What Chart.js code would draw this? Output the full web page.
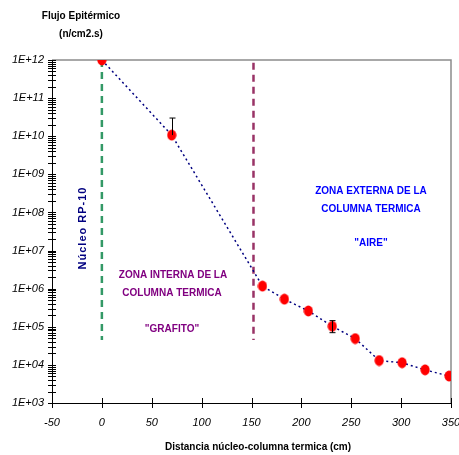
<!DOCTYPE html>
<html>
<head>
<meta charset="utf-8">
<script src="https://cdn.jsdelivr.net/npm/chart.js@4.4.1/dist/chart.umd.min.js"></script>
<style>
  body { margin: 0; background: #fff; }
  canvas { display: block; }
</style>
</head>
<body>
<canvas id="fluxChart" width="459" height="455"></canvas>
<script>
// Measured epithermal flux along the thermal column
const distances = [0, 70, 161, 183, 207, 231, 254, 278, 301, 324, 348];
const flux = [1e12, 1.07e10, 1.17e6, 5.3e5, 2.6e5, 1.03e5, 4.9e4, 1.3e4, 1.14e4, 7.4e3, 5.1e3];
const fluxHigh = [null, 3e10, null, null, null, 1.45e5, null, null, null, null, null];
const fluxLow = [null, null, null, null, null, 7e4, null, null, null, null, null];

// Zone limits (core edge and graphite / air boundary)
const coreX = [0, 0];
const coreY = [1e12, 4.5e4];
const graphiteX = [152, 152];
const graphiteY = [8.5e11, 4.5e4];

// Axis ticks
const xTicks = [-50, 0, 50, 100, 150, 200, 250, 300, 350];
const yDecades = [3, 4, 5, 6, 7, 8, 9, 10, 11, 12];

const FONT = "'Liberation Sans', Arial, sans-serif";

// red marker, a bit taller than wide like the original
const dot = document.createElement("canvas");
dot.width = 10;
dot.height = 12;
const dctx = dot.getContext("2d");
dctx.fillStyle = "#ff0000";
dctx.beginPath();
dctx.ellipse(5, 6, 4.6, 5.4, 0, 0, Math.PI * 2);
dctx.fill();

function yTickValues() {
    const vals = [];
    yDecades.forEach(d => {
        if (d === yDecades[yDecades.length - 1]) {
            vals.push(Math.pow(10, d));
            return;
        }
        for (let m = 1; m <= 9; m++) vals.push(m * Math.pow(10, d));
    });
    return vals;
}

// crossing tick marks + grey frame on top/right
const axisPlugin = {
    id: "axisDecor",
    beforeDatasetsDraw(chart) {
        const { ctx, chartArea: a } = chart;
        ctx.save();
        ctx.strokeStyle = "#8c8c8c";
        ctx.lineWidth = 1.5;
        ctx.beginPath();
        ctx.moveTo(a.left, a.top);
        ctx.lineTo(a.right, a.top);
        ctx.lineTo(a.right, a.bottom);
        ctx.stroke();
        ctx.restore();
    },
    afterDraw(chart) {
        const { ctx, chartArea: a, scales } = chart;
        ctx.save();
        ctx.strokeStyle = "#000";
        ctx.lineWidth = 1;
        ctx.beginPath();
        scales.y.ticks.forEach(t => {
            const py = Math.round(scales.y.getPixelForValue(t.value)) + 0.5;
            ctx.moveTo(a.left - 4, py);
            ctx.lineTo(a.left + 4, py);
        });
        scales.x.ticks.forEach(t => {
            const px = Math.round(scales.x.getPixelForValue(t.value)) + 0.5;
            ctx.moveTo(px, a.bottom - 5);
            ctx.lineTo(px, a.bottom + 5);
        });
        ctx.stroke();
        ctx.restore();
    }
};

// error bars from fluxLow / fluxHigh
const errorBarPlugin = {
    id: "errorBars",
    afterDatasetsDraw(chart) {
        const { ctx, scales } = chart;
        ctx.save();
        ctx.strokeStyle = "#000";
        ctx.lineWidth = 1;
        distances.forEach((d, i) => {
            if (fluxHigh[i] == null && fluxLow[i] == null) return;
            const px = Math.round(scales.x.getPixelForValue(d)) + 0.5;
            const top = scales.y.getPixelForValue(fluxHigh[i] ?? flux[i]);
            const bot = scales.y.getPixelForValue(fluxLow[i] ?? flux[i]);
            ctx.beginPath();
            ctx.moveTo(px, top);
            ctx.lineTo(px, bot);
            if (fluxHigh[i] != null) { ctx.moveTo(px - 3, top); ctx.lineTo(px + 3, top); }
            if (fluxLow[i] != null) { ctx.moveTo(px - 3, bot); ctx.lineTo(px + 3, bot); }
            ctx.stroke();
        });
        ctx.restore();
    }
};

// titles and zone notes
const textPlugin = {
    id: "notes",
    afterDraw(chart) {
        const ctx = chart.ctx;
        ctx.save();
        ctx.textAlign = "center";
        ctx.textBaseline = "middle";

        ctx.fillStyle = "#000";
        ctx.font = "bold 10px " + FONT;
        ctx.fillText("Flujo Epitérmico", 81, 16);
        ctx.fillText("(n/cm2.s)", 81, 34);
        ctx.fillText("Distancia núcleo-columna termica (cm)", 258, 447);

        ctx.fillStyle = "#800080";
        ctx.fillText("ZONA INTERNA DE LA", 173, 275);
        ctx.fillText("COLUMNA TERMICA", 172, 293);
        ctx.fillText("\"GRAFITO\"", 172, 329);

        ctx.fillStyle = "#0000ff";
        ctx.fillText("ZONA EXTERNA DE LA", 371, 191);
        ctx.fillText("COLUMNA TERMICA", 371, 209);
        ctx.fillText("\"AIRE\"", 371, 243);

        ctx.fillStyle = "#000080";
        ctx.font = "bold 11px " + FONT;
        ctx.translate(83, 228);
        ctx.rotate(-Math.PI / 2);
        ctx.letterSpacing = "1px";
        ctx.fillText("Núcleo RP-10", 0, 0);
        ctx.restore();
    }
};

const ctx = document.getElementById("fluxChart").getContext("2d");

new Chart(ctx, {
    type: "scatter",
    data: {
        datasets: [
            {
                label: "Flujo",
                data: distances.map((x, i) => ({ x: x, y: flux[i] })),
                showLine: true,
                borderColor: "#000080",
                borderWidth: 1.5,
                borderDash: [2, 3],
                pointStyle: dot,
                pointRadius: 5,
                order: 1
            },
            {
                label: "Núcleo",
                data: coreX.map((x, i) => ({ x: x, y: coreY[i] })),
                showLine: true,
                borderColor: "#339966",
                borderWidth: 2.5,
                borderDash: [7, 5],
                pointRadius: 0,
                order: 2
            },
            {
                label: "Grafito",
                data: graphiteX.map((x, i) => ({ x: x, y: graphiteY[i] })),
                showLine: true,
                borderColor: "#993366",
                borderWidth: 2.5,
                borderDash: [7, 5],
                pointRadius: 0,
                order: 2
            }
        ]
    },
    options: {
        responsive: false,
        animation: false,
        devicePixelRatio: 1,
        layout: { padding: { top: 60, right: 8, left: 0, bottom: 0 } },
        plugins: {
            legend: { display: false },
            tooltip: { enabled: false }
        },
        scales: {
            x: {
                type: "linear",
                min: -50,
                max: 350,
                afterBuildTicks: scale => { scale.ticks = xTicks.map(v => ({ value: v })); },
                afterFit: scale => {
                    scale.height = 52;
                    // let the last label run off the edge like the original
                    scale.paddingLeft = 0;
                    scale.paddingRight = 0;
                },
                grid: { display: false, drawTicks: false },
                border: { display: true, color: "#000", width: 1 },
                ticks: {
                    padding: 13,
                    color: "#000",
                    font: { family: FONT, size: 11, style: "italic" }
                }
            },
            y: {
                type: "logarithmic",
                min: 1e3,
                max: 1e12,
                afterBuildTicks: scale => { scale.ticks = yTickValues().map(v => ({ value: v })); },
                afterFit: scale => {
                    scale.width = 52;
                    scale.paddingTop = 0;
                    scale.paddingBottom = 0;
                },
                grid: { display: false, drawTicks: false },
                border: { display: true, color: "#000", width: 1 },
                ticks: {
                    autoSkip: false,
                    padding: 8,
                    color: "#000",
                    font: { family: FONT, size: 11, style: "italic" },
                    callback: value => {
                        const e = Math.round(Math.log10(value));
                        if (Math.abs(Math.log10(value) - e) > 1e-6) return "";
                        return "1E+" + String(e).padStart(2, "0");
                    }
                }
            }
        }
    },
    plugins: [axisPlugin, errorBarPlugin, textPlugin]
});
</script>
</body>
</html>
